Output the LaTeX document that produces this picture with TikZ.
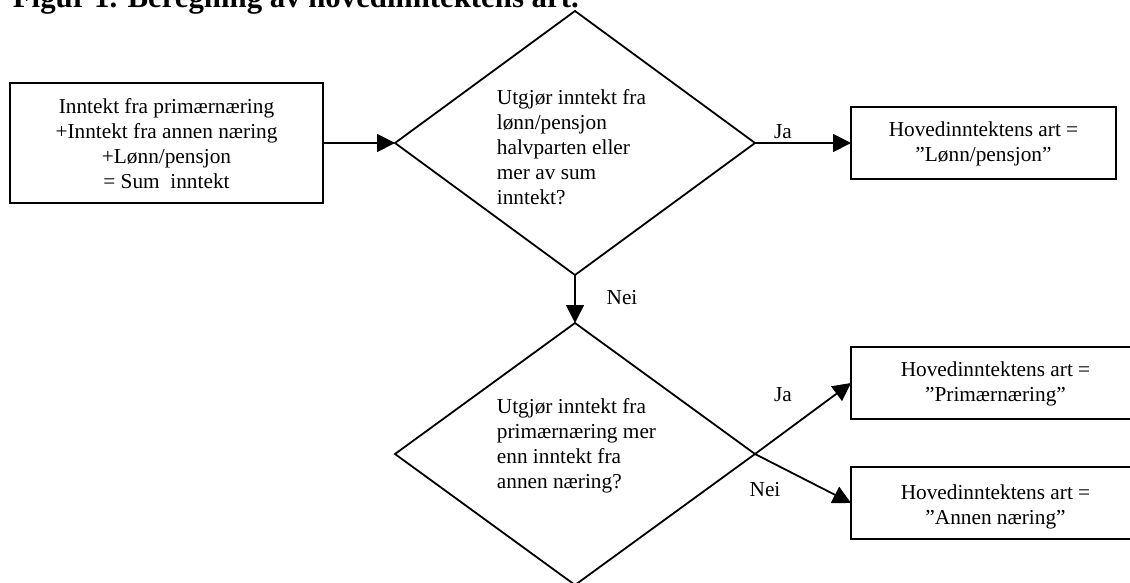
\documentclass[tikz,border=0pt]{standalone}
\usepackage{fontspec}
\setmainfont{Liberation Serif}
\usetikzlibrary{shapes.geometric,arrows.meta}

\begin{document}
\begin{tikzpicture}[x=1pt,y=-1pt,line width=1.8pt,
  box/.style={draw,rectangle,inner sep=0pt,outer sep=0pt,align=center},
  decision/.style={draw,diamond,inner sep=0pt,outer sep=0pt,minimum width=360pt},
  qtext/.style={anchor=west,align=left,inner sep=0pt},
  lbl/.style={inner sep=0pt},
  arr/.style={-{Triangle[length=18pt,width=18pt]}},
  every node/.style={font=\fontsize{21.3}{25}\selectfont}]
\useasboundingbox (0,0) rectangle (1130,583);
\clip (0,0) rectangle (1130,583);
  % Title
  \node[anchor=base west,inner sep=0pt,font=\fontsize{30.8}{34}\selectfont\bfseries] (title) at (12,8) {Figur 1. Beregning av hovedinntektens art.};
  % Draw boxes
  \node[box,minimum width=313pt,minimum height=120pt] (sum) at (166.5,143) {};
  \node[lbl,align=center] (sumtxt) at (166.5,144) {Inntekt fra primærnæring\\+Inntekt fra annen næring\\+Lønn/pensjon\\= Sum\ \ inntekt};
  \node[box,minimum width=265pt,minimum height=72pt] (lonn) at (983.5,143) {};
  \node[lbl,align=center] (lonntxt) at (983.5,144) {Hovedinntektens art =\\”Lønn/pensjon”};
  \node[box,minimum width=289pt,minimum height=72pt] (prim) at (995.5,383) {};
  \node[lbl,align=center] (primtxt) at (995.5,384) {Hovedinntektens art =\\”Primærnæring”};
  \node[box,minimum width=289pt,minimum height=72pt] (annen) at (995.5,503) {};
  \node[lbl,align=center] (annentxt) at (995.5,507) {Hovedinntektens art =\\”Annen næring”};
  % Draw decisions
  \node[decision,minimum height=264pt] (q1) at (575,143) {};
  \node[qtext] (q1txt) at (496,147) {Utgjør inntekt fra\\lønn/pensjon\\halvparten eller\\mer av sum\\inntekt?};
  \node[decision,minimum height=262pt] (q2) at (575,454) {};
  \node[qtext] (q2txt) at (496,445.5) {Utgjør inntekt fra\\primærnæring mer\\enn inntekt fra\\annen næring?};
  % Draw arrows
  \draw[arr] (sum.east) -- (q1.west);
  \draw[arr] (q1.east) -- (lonn.west);
  \draw[arr] (q1.south) -- (q2.north);
  \draw[arr] (q2.east) -- (prim.west);
  \draw[arr] (q2.east) -- (annen.west);
  % Draw arrow labels
  \node[lbl] (ja1) at (783,132) {Ja};
  \node[lbl] (nei1) at (622,298) {Nei};
  \node[lbl] (ja2) at (783,395) {Ja};
  \node[lbl] (nei2) at (765,490) {Nei};
\end{tikzpicture}
\end{document}
